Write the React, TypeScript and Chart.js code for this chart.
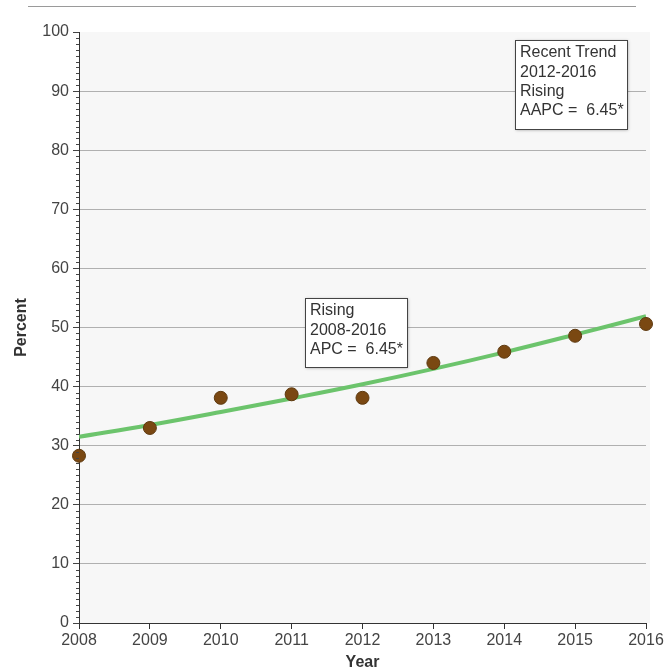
import React, { useEffect, useRef } from "react";
import { Chart, registerables } from "chart.js";

Chart.register(...registerables);

const years = [2008, 2009, 2010, 2011, 2012, 2013, 2014, 2015, 2016];
const observed = [28.3, 33.0, 38.1, 38.7, 38.1, 44.0, 45.9, 48.6, 50.6];
const trend = [31.5, 33.5, 35.7, 38.0, 40.4, 43.0, 45.8, 48.8, 51.9];
const yTickValues = [0, 10, 20, 30, 40, 50, 60, 70, 80, 90, 100];
const boxRecent = ["Recent Trend", "2012-2016", "Rising", "AAPC =  6.45*"];
const boxSegment = ["Rising", "2008-2016", "APC =  6.45*"];

const FONT = "'Liberation Sans', Arial, sans-serif";

export default function App() {
  const ref = useRef<HTMLCanvasElement | null>(null);

  useEffect(() => {
    document.body.style.margin = "0";
    const canvas = ref.current;
    if (!canvas) return;

    const decor = {
      id: "decor",
      beforeDraw(chart: any) {
        const { ctx, chartArea } = chart;
        ctx.save();
        ctx.fillStyle = "#ffffff";
        ctx.fillRect(0, 0, chart.width, chart.height);
        ctx.fillStyle = "#f7f7f7";
        ctx.fillRect(chartArea.left, chartArea.top, chartArea.right - chartArea.left + 4, chartArea.bottom - chartArea.top);
        ctx.strokeStyle = "#9a9a9a";
        ctx.lineWidth = 1;
        ctx.beginPath();
        ctx.moveTo(28, 6.5);
        ctx.lineTo(636, 6.5);
        ctx.stroke();
        ctx.restore();
      },
      afterDraw(chart: any) {
        const { ctx, chartArea, scales } = chart;
        const y = scales.y;
        ctx.save();
        ctx.strokeStyle = "#444";
        ctx.lineWidth = 1;
        ctx.beginPath();
        for (let v = 0; v <= 100; v++) {
          if (v % 10 === 0) continue;
          const py = Math.round(y.getPixelForValue(v)) + 0.5;
          ctx.moveTo(chartArea.left - 3, py);
          ctx.lineTo(chartArea.left, py);
        }
        ctx.stroke();
        ctx.fillStyle = "#333";
        ctx.font = `bold 16px ${FONT}`;
        ctx.textAlign = "center";
        ctx.textBaseline = "middle";
        ctx.fillText("Year", (chartArea.left + chartArea.right) / 2, 663);
        ctx.save();
        ctx.translate(22, (chartArea.top + chartArea.bottom) / 2);
        ctx.rotate(-Math.PI / 2);
        ctx.fillText("Percent", 0, 0);
        ctx.restore();
        const drawBox = (x: number, top: number, w: number, h: number, lines: string[]) => {
          ctx.save();
          ctx.shadowColor = "rgba(0,0,0,0.35)";
          ctx.shadowBlur = 3;
          ctx.shadowOffsetX = 1;
          ctx.shadowOffsetY = 1;
          ctx.fillStyle = "#ffffff";
          ctx.fillRect(x, top, w, h);
          ctx.restore();
          ctx.strokeStyle = "#444";
          ctx.lineWidth = 1;
          ctx.strokeRect(x + 0.5, top + 0.5, w, h);
          ctx.fillStyle = "#333";
          ctx.font = `16px ${FONT}`;
          ctx.textAlign = "left";
          ctx.textBaseline = "middle";
          lines.forEach((l, i) => ctx.fillText(l, x + 5, top + 13 + i * 19.3));
        };
        drawBox(515, 40, 112, 89, boxRecent);
        drawBox(305, 298, 102, 69, boxSegment);
        ctx.restore();
      },
    };

    const chart = new Chart(canvas, {
      type: "line",
      data: {
        datasets: [
          {
            type: "scatter",
            label: "Observed",
            data: years.map((x, i) => ({ x, y: observed[i] })),
            backgroundColor: "#7a4812",
            borderColor: "#5e3a10",
            borderWidth: 1,
            pointRadius: 6.5,
            clip: false,
            order: 0,
          } as any,
          {
            type: "line",
            label: "Trend",
            data: years.map((x, i) => ({ x, y: trend[i] })),
            borderColor: "#6cc46c",
            borderWidth: 4,
            pointRadius: 0,
            tension: 0.4,
            fill: false,
            order: 1,
          },
        ],
      },
      plugins: [decor],
      options: {
        responsive: false,
        animation: false,
        layout: { padding: { left: 0, right: 18, top: 32, bottom: 0 } },
        plugins: { legend: { display: false }, tooltip: { enabled: false } },
        scales: {
          x: {
            type: "linear",
            min: 2008,
            max: 2016,
            afterFit: (s: any) => { s.height = 49; s.paddingRight = 0; },
            afterBuildTicks: (s: any) => { s.ticks = years.map((v) => ({ value: v })); },
            ticks: {
              color: "#444",
              font: { family: FONT, size: 16 },
              padding: 2,
              maxRotation: 0,
              callback: (v: any) => String(v),
            },
            grid: { drawOnChartArea: false, drawTicks: true, tickLength: 6, color: "#333" },
            border: { color: "#333", width: 1 },
          },
          y: {
            type: "linear",
            min: 0,
            max: 100,
            afterFit: (s: any) => { s.width = 79; },
            afterBuildTicks: (s: any) => { s.ticks = yTickValues.map((v) => ({ value: v })); },
            ticks: {
              color: "#444",
              font: { family: FONT, size: 16 },
              padding: 4,
              callback: (v: any) => String(v),
            },
            grid: {
              tickLength: 6,
              color: (c: any) => (c.tick && (c.tick.value === 100 || c.tick.value === 0) ? "rgba(0,0,0,0)" : "#b0b0b0"),
              tickColor: "#444",
              lineWidth: 1,
            },
            border: { color: "#333", width: 1 },
          },
        },
      },
    });
    return () => chart.destroy();
  }, []);

  return <canvas ref={ref} width={664} height={672} style={{ display: "block" }} />;
}
